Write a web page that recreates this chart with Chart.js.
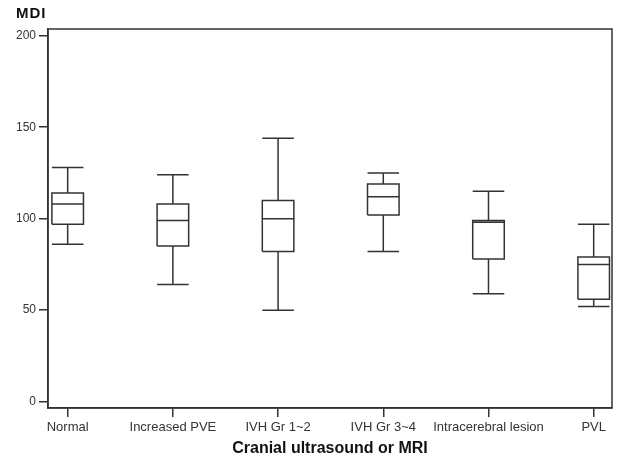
<!DOCTYPE html>
<html>
<head>
<meta charset="utf-8">
<script src="https://cdn.jsdelivr.net/npm/chart.js@4"></script>
<style>
  body { margin: 0; background: #fff; }
</style>
</head>
<body>
<canvas id="myChart" width="618" height="461"></canvas>
<script>
const categories = ["Normal", "Increased PVE", "IVH Gr 1~2", "IVH Gr 3~4", "Intracerebral lesion", "PVL"];
const mins    = [86, 64, 50, 82, 59, 52];
const q1s     = [97, 85, 82, 102, 78, 56];
const medians = [108, 99, 100, 112, 98, 75];
const q3s     = [114, 108, 110, 119, 99, 79];
const maxs    = [128, 124, 144, 125, 115, 97];
const yTicks  = [0, 50, 100, 150, 200];

const lineColor = "#333";
const half = 0.15;

// build the box & whisker line segments, null breaks between segments
const segs = [];
const gap = (x) => segs.push({ x: x, y: null });
categories.forEach((c, i) => {
  const l = i - half, r = i + half;
  segs.push({ x: l, y: q1s[i] }, { x: r, y: q1s[i] }, { x: r, y: q3s[i] }, { x: l, y: q3s[i] }, { x: l, y: q1s[i] });
  gap(i);
  segs.push({ x: l, y: medians[i] }, { x: r, y: medians[i] });
  gap(i);
  segs.push({ x: i, y: q3s[i] }, { x: i, y: maxs[i] });
  gap(i);
  segs.push({ x: l, y: maxs[i] }, { x: r, y: maxs[i] });
  gap(i);
  segs.push({ x: i, y: q1s[i] }, { x: i, y: mins[i] });
  gap(i);
  segs.push({ x: l, y: mins[i] }, { x: r, y: mins[i] });
  gap(i);
});

const framePlugin = {
  id: "frame",
  afterDraw(chart) {
    const { ctx, chartArea } = chart;
    ctx.save();
    ctx.strokeStyle = lineColor;
    ctx.lineWidth = 1.5;
    ctx.strokeRect(chartArea.left, chartArea.top, chartArea.right - chartArea.left, chartArea.bottom - chartArea.top);
    ctx.fillStyle = "#111";
    ctx.font = "bold 15px 'Liberation Sans', Arial, sans-serif";
    ctx.letterSpacing = "1px";
    ctx.textBaseline = "alphabetic";
    ctx.fillText("MDI", 16, 18);
    ctx.restore();
  }
};

const config = {
  type: "scatter",
  data: {
    datasets: [{
      data: segs,
      showLine: true,
      spanGaps: false,
      borderColor: lineColor,
      borderWidth: 1.5,
      pointRadius: 0,
      tension: 0
    }]
  },
  options: {
    responsive: false,
    animation: false,
    layout: { padding: { top: 29, right: 6, left: 0, bottom: 0 } },
    plugins: { legend: { display: false }, tooltip: { enabled: false } },
    scales: {
      x: {
        type: "linear",
        min: -0.187,
        max: 5.174,
        afterBuildTicks: (scale) => { scale.ticks = categories.map((c, i) => ({ value: i })); },
        afterFit: (scale) => { scale.height = 53; },
        grid: { drawOnChartArea: false, tickLength: 9, color: lineColor, lineWidth: 1.5 },
        border: { display: true, color: lineColor, width: 1.5 },
        ticks: {
          autoSkip: false, maxRotation: 0, padding: 3,
          color: "#333",
          font: { family: "'Liberation Sans', Arial, sans-serif", size: 13 },
          callback: (v) => categories[v]
        },
        title: {
          display: true,
          text: "Cranial ultrasound or MRI",
          color: "#111",
          font: { family: "'Liberation Sans', Arial, sans-serif", size: 16, weight: "bold" },
          padding: { top: 2, bottom: 3 }
        }
      },
      y: {
        min: -3.5,
        max: 203.7,
        afterBuildTicks: (scale) => { scale.ticks = yTicks.map((v) => ({ value: v })); },
        afterFit: (scale) => { scale.width = 48; },
        grid: { drawOnChartArea: false, tickLength: 9, color: lineColor, lineWidth: 1.5 },
        border: { display: true, color: lineColor, width: 1.5 },
        ticks: {
          padding: 3,
          color: "#333",
          font: { family: "'Liberation Sans', Arial, sans-serif", size: 12 }
        }
      }
    }
  },
  plugins: [framePlugin]
};

new Chart(document.getElementById("myChart"), config);
</script>
</body>
</html>
